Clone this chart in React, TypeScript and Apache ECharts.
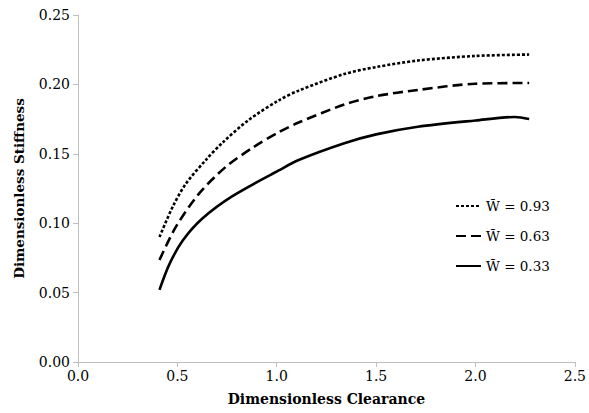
import React, { useEffect, useRef } from "react";
import * as echarts from "echarts";

const seriesNames = ["W\u0304 = 0.93", "W\u0304 = 0.63", "W\u0304 = 0.33"];

const curveTop: [number, number][] = [
  [0.41, 0.090], [0.477, 0.112], [0.543, 0.1285], [0.643, 0.1455], [0.727, 0.158],
  [0.86, 0.1745], [1.01, 0.1885], [1.11, 0.1955], [1.34, 0.2075],
  [1.5, 0.2125], [1.71, 0.2172], [2.0, 0.2205], [2.27, 0.2215],
];
const curveMid: [number, number][] = [
  [0.41, 0.0735], [0.493, 0.0975], [0.61, 0.1215], [0.743, 0.1405], [0.88, 0.1545],
  [1.01, 0.1655], [1.11, 0.1725], [1.34, 0.1855], [1.5, 0.1915], [1.71, 0.196],
  [2.0, 0.2005], [2.27, 0.201],
];
const curveLow: [number, number][] = [
  [0.41, 0.052], [0.46, 0.0705], [0.527, 0.0875], [0.627, 0.1035], [0.777, 0.1195],
  [1.01, 0.138], [1.11, 0.1455], [1.34, 0.1576], [1.5, 0.164], [1.71, 0.1695],
  [2.0, 0.174], [2.2, 0.1765], [2.27, 0.175],
];

const dashTypes: any[] = [[3, 2], [10, 5], "solid"];
const curves = [curveTop, curveMid, curveLow];

export default function App() {
  const ref = useRef<HTMLDivElement>(null);
  useEffect(() => {
    if (!ref.current) return;
    const chart = echarts.init(ref.current, null, { renderer: "svg" });
    const font = "DejaVu Serif";
    const baseText = { fontFamily: font, color: "#000" };
    chart.setOption({
      animation: false,
      textStyle: { fontFamily: font, color: "#000" },
      grid: { left: 78, right: 11, top: 15, bottom: 51, containLabel: false },
      legend: {
        orient: "vertical",
        left: 450,
        top: 194,
        itemWidth: 25,
        itemHeight: 3,
        itemGap: 16,
        data: seriesNames,
        itemStyle: { opacity: 0 },
        textStyle: { ...baseText, fontSize: 13.5 },
      },
      xAxis: {
        type: "value",
        min: 0,
        max: 2.5,
        interval: 0.5,
        name: "Dimensionless Clearance",
        nameLocation: "middle",
        nameGap: 30,
        nameTextStyle: { ...baseText, fontSize: 14, fontWeight: "bold" },
        axisLine: { lineStyle: { color: "#bfbfbf", width: 1 } },
        axisTick: { show: true, length: 5, lineStyle: { color: "#bfbfbf" } },
        axisLabel: {
          ...baseText, fontSize: 14, margin: 7,
          formatter: (v: number) => v.toFixed(1),
        },
        splitLine: { show: false },
      },
      yAxis: {
        type: "value",
        min: 0,
        max: 0.25,
        interval: 0.05,
        name: "Dimensionless Stiffness",
        nameLocation: "middle",
        nameGap: 52,
        nameTextStyle: { ...baseText, fontSize: 13.5, fontWeight: "bold" },
        axisLine: { show: true, lineStyle: { color: "#bfbfbf", width: 1 } },
        axisTick: { show: true, length: 5, lineStyle: { color: "#bfbfbf" } },
        axisLabel: {
          ...baseText, fontSize: 14, margin: 8,
          formatter: (v: number) => v.toFixed(2),
        },
        splitLine: { show: false },
      },
      series: curves.map((c, i) => ({
        name: seriesNames[i],
        type: "line",
        data: c,
        smooth: 0.3,
        showSymbol: false,
        symbol: "none",
        lineStyle: { color: "#000", width: 2.6, type: dashTypes[i] },
        itemStyle: { color: "#000" },
      })),
    });
    return () => chart.dispose();
  }, []);
  return <div ref={ref} style={{ width: 589, height: 413, position: "absolute", left: 0, top: 0 }} />;
}
